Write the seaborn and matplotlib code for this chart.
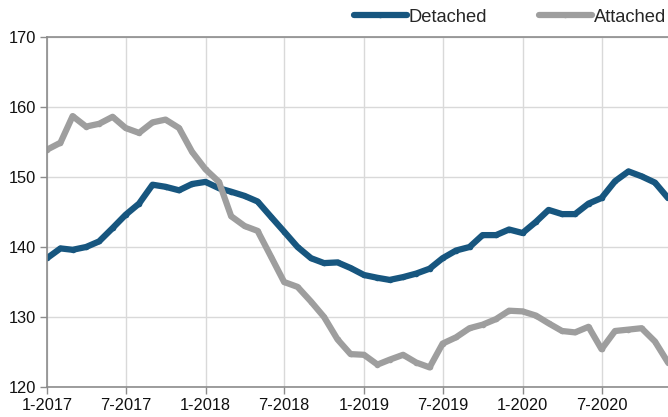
import matplotlib
matplotlib.use("Agg")
import matplotlib.pyplot as plt
import pandas as pd
import seaborn as sns

# monthly values, Jan 2017 .. Dec 2020
months = pd.date_range("2017-01-01", "2020-12-01", freq="MS")
detached = [
    138.4, 139.8, 139.6, 140.0, 140.8, 142.7, 144.6, 146.2, 148.9, 148.6, 148.1, 149.0,
    149.3, 148.4, 147.9, 147.3, 146.5, 144.3, 142.2, 140.0, 138.4, 137.7, 137.8, 137.0,
    136.0, 135.6, 135.3, 135.7, 136.2, 136.9, 138.4, 139.5, 140.0, 141.7, 141.7, 142.5,
    142.0, 143.6, 145.3, 144.7, 144.7, 146.2, 147.0, 149.4, 150.8, 150.1, 149.2, 147.0,
]
attached = [
    153.9, 154.9, 158.7, 157.2, 157.6, 158.6, 157.0, 156.3, 157.8, 158.2, 157.0, 153.6,
    151.1, 149.3, 144.4, 143.0, 142.3, 138.6, 135.0, 134.3, 132.2, 130.0, 126.8, 124.7,
    124.6, 123.2, 123.9, 124.6, 123.5, 122.8, 126.2, 127.1, 128.4, 128.9, 129.7, 130.9,
    130.8, 130.2, 129.1, 128.0, 127.8, 128.6, 125.4, 128.0, 128.2, 128.4, 126.5, 123.5,
]
series_names = ["Detached", "Attached"]
tick_dates = pd.date_range("2017-01-01", "2020-07-01", freq="6MS")
tick_labels = ["1-2017", "7-2017", "1-2018", "7-2018", "1-2019", "7-2019", "1-2020", "7-2020"]
y_ticks = [120, 130, 140, 150, 160, 170]

df = pd.concat(
    [
        pd.DataFrame({"date": months, "value": detached, "series": series_names[0]}),
        pd.DataFrame({"date": months, "value": attached, "series": series_names[1]}),
    ],
    ignore_index=True,
)

sns.set_theme(style="whitegrid")
plt.rcParams["font.family"] = ["Liberation Sans", "DejaVu Sans"]

fig = plt.figure(figsize=(6.68, 4.17), dpi=100)
ax = fig.add_axes([47 / 668, 30 / 417, 1 - 47 / 668, 350 / 417])

sns.lineplot(
    data=df, x="date", y="value", hue="series",
    palette={"Detached": "#17567f", "Attached": "#9e9e9e"},
    linewidth=4.5, marker="o", markersize=4, markeredgewidth=0,
    solid_joinstyle="round", solid_capstyle="round",
    ax=ax, legend=True,
)

ax.set_xlim(months[0], months[-1])
ax.set_ylim(120, 170)
ax.set_yticks(y_ticks)
ax.set_xticks(tick_dates)
ax.set_xticklabels(tick_labels)
ax.set_xlabel("")
ax.set_ylabel("")

ax.grid(True, color="#d9d9d9", linewidth=1)
for side in ["left", "bottom", "top"]:
    ax.spines[side].set_visible(True)
    ax.spines[side].set_color("#8c8c8c")
    ax.spines[side].set_linewidth(1.2)
ax.spines["right"].set_visible(False)
ax.tick_params(axis="both", which="both", length=5, width=1, color="#8c8c8c",
               labelsize=11.8, labelcolor="#111111", pad=3)
ax.tick_params(axis="x", direction="out", bottom=True)
ax.tick_params(axis="y", direction="out", left=True)

handles, labels = ax.get_legend_handles_labels()
leg = ax.legend(
    handles, labels, ncol=2, frameon=False, loc="center right",
    bbox_to_anchor=(0.997, 1 - 17 / 417), bbox_transform=fig.transFigure,
    fontsize=13.2, handlelength=2.9, handletextpad=0.1, columnspacing=2.8,
    borderaxespad=0.0, borderpad=0.0,
)

fig.savefig("out.png", dpi=100)
plt.close(fig)
